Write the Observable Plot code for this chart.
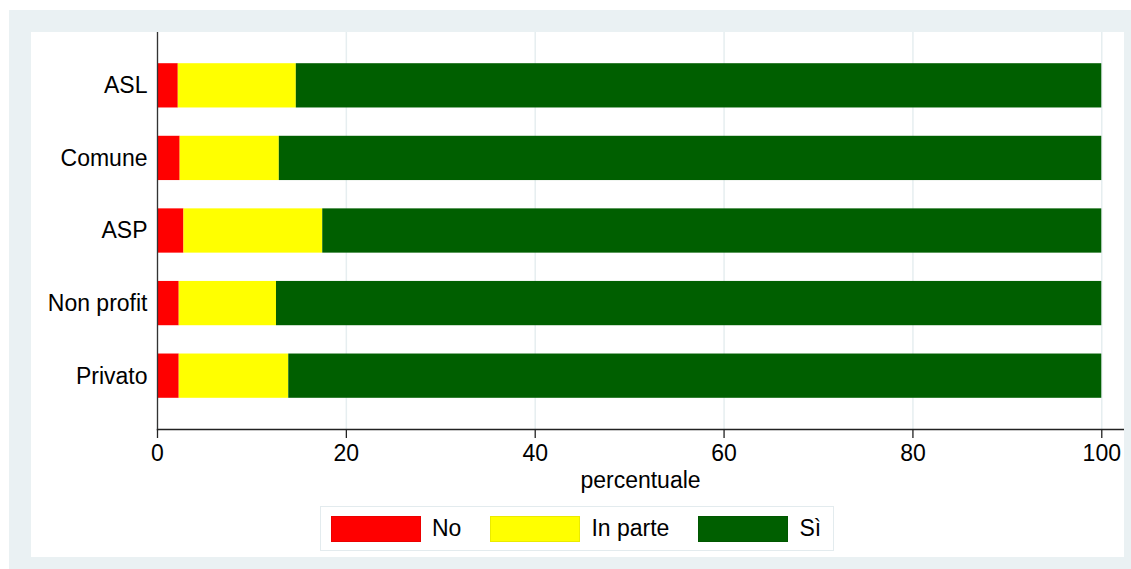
<!DOCTYPE html>
<html>
<head>
<meta charset="utf-8">
<script src="https://cdn.jsdelivr.net/npm/d3@7"></script>
<script src="https://cdn.jsdelivr.net/npm/@observablehq/plot@0.6"></script>
<style>
  html, body { margin: 0; padding: 0; background: #ffffff; }
  #page { position: relative; width: 1131px; height: 569px; overflow: hidden; font-family: "Liberation Sans", Arial, sans-serif; }
  #outer { position: absolute; left: 9px; top: 10px; width: 1122px; height: 559px; background: #eaf1f3; }
  #panel { position: absolute; left: 31px; top: 32px; width: 1093px; height: 525px; background: #ffffff; }
  #chart { position: absolute; left: 0; top: 0; }
  #legend { position: absolute; left: 289px; top: 474px; height: 43px; border: 1px solid #e3ebee; box-sizing: content-box; display: flex; align-items: center; font-size: 23px; color: #000; }
  .item { display: flex; align-items: center; }
  .sw { width: 88px; height: 24px; border: 0.5px solid rgba(0,0,0,0.08); }
  .lab { margin-left: 11px; margin-right: 29px; white-space: nowrap; }
</style>
</head>
<body>
<div id="page">
  <div id="outer"></div>
  <div id="panel">
    <div id="chart"></div>
    <div id="legend"></div>
  </div>
</div>
<script>
// Categories (top to bottom)
const enti = ["ASL", "Comune", "ASP", "Non profit", "Privato"];
// Series (stack order)
const risposte = ["No", "In parte", "Sì"];
const colori = ["#ff0000", "#ffff00", "#005f00"];
// Percent values per category
const valNo      = [2.2, 2.4, 2.8, 2.3, 2.3];
const valInParte = [12.5, 10.5, 14.7, 10.3, 11.6];
const valSi      = [85.3, 87.1, 82.5, 87.4, 86.1];
const xTicks = [0, 20, 40, 60, 80, 100];
const xLabel = "percentuale";

const serie = [valNo, valInParte, valSi];
const data = [];
enti.forEach((e, i) => {
  risposte.forEach((r, j) => {
    data.push({ente: e, risposta: r, valore: serie[j][i]});
  });
});

const W = 1093, H = 470, MB = 73;
const chart = Plot.plot({
  width: W,
  height: H,
  marginTop: 0,
  marginBottom: MB,
  marginLeft: 126,
  marginRight: 1,
  style: {fontFamily: "'Liberation Sans', Arial, sans-serif", fontSize: "23px", color: "#000", background: "transparent"},
  x: {domain: [0, 102.3], label: null},
  y: {domain: enti, paddingInner: 0.39, paddingOuter: 0.43, round: false, label: null},
  color: {domain: risposte, range: colori},
  marks: [
    Plot.gridX(xTicks, {stroke: "#e6eef0", strokeOpacity: 1, strokeWidth: 1.5}),
    Plot.barX(data, {x: "valore", y: "ente", fill: "risposta", order: risposte}),
    Plot.frame({anchor: "bottom", stroke: "#222", strokeWidth: 1.3}),
    Plot.frame({anchor: "left", stroke: "#333", strokeWidth: 1.3}),
    Plot.axisX({ticks: xTicks, tickSize: 9, tickPadding: 6, fontSize: 23, label: null, stroke: "#222", strokeWidth: 1.3}),
    Plot.axisY({tickSize: 0, tickPadding: 10, fontSize: 23, label: null}),
    Plot.text([xLabel], {frameAnchor: "bottom", dy: 58, lineAnchor: "bottom", fontSize: 23, fill: "#000", text: d => d})
  ]
});
document.getElementById("chart").appendChild(chart);

const legend = document.getElementById("legend");
legend.style.paddingLeft = "10px";
legend.style.paddingRight = "12px";
risposte.forEach((r, j) => {
  const it = document.createElement("div");
  it.className = "item";
  const sw = document.createElement("div");
  sw.className = "sw";
  sw.style.background = colori[j];
  const lab = document.createElement("span");
  lab.className = "lab";
  lab.textContent = r;
  if (j === risposte.length - 1) lab.style.marginRight = "0";
  it.appendChild(sw);
  it.appendChild(lab);
  legend.appendChild(it);
});
</script>
</body>
</html>
